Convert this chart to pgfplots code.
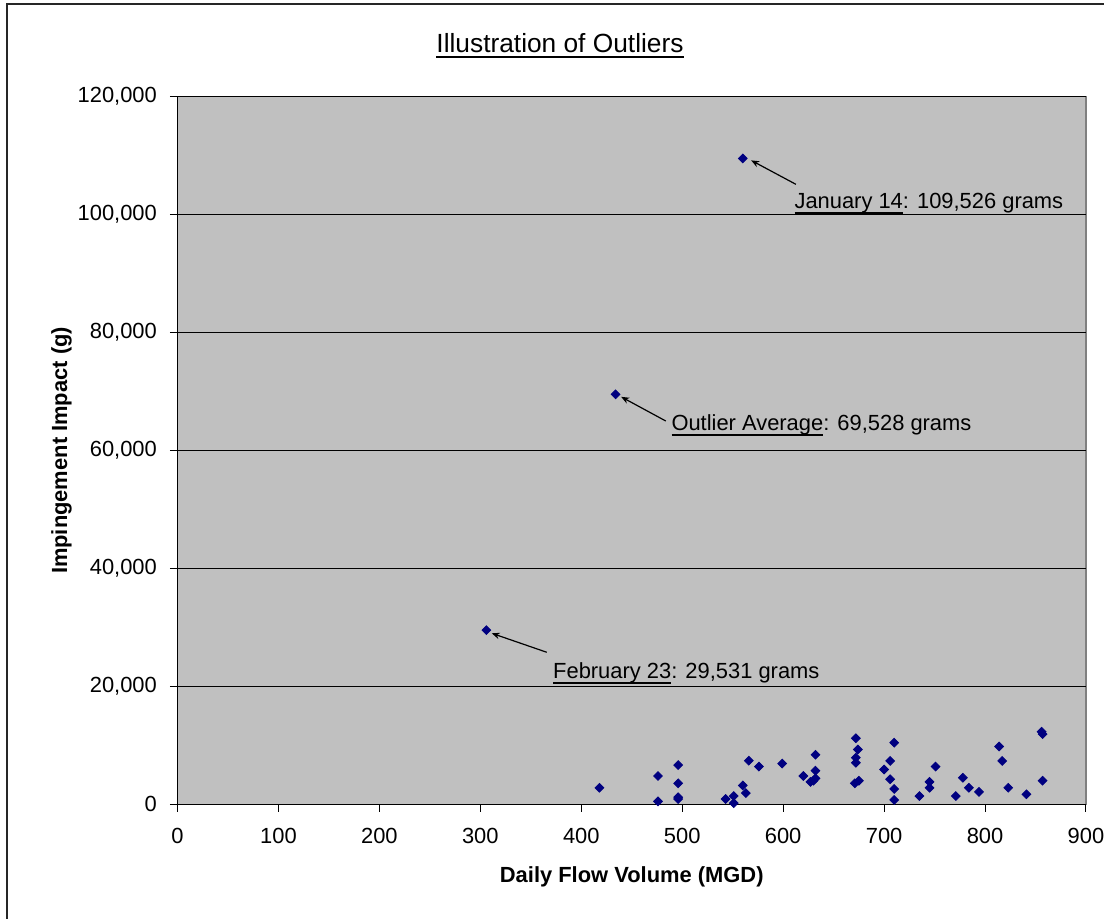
\documentclass[border=0pt]{standalone}
\usepackage{fontspec}
\setmainfont{Liberation Sans}
\setsansfont{Liberation Sans}
\usepackage{pgfplots}
\pgfplotsset{compat=1.18}
\usetikzlibrary{arrows.meta}
\definecolor{bggray}{RGB}{192,192,192}
\definecolor{navy}{RGB}{0,0,128}
\definecolor{framegray}{RGB}{128,128,128}
\newsavebox\ulbox
\newcommand\ul[1]{\sbox\ulbox{#1}\rlap{\rule[-2.85pt]{\wd\ulbox}{1pt}}\usebox\ulbox}
\newcommand\tickfont{\fontsize{10.95}{13}\selectfont}
\begin{document}
\begin{tikzpicture}
\useasboundingbox (0,0) rectangle (552pt,459.5pt);
\draw[line width=0.8pt, black!85] (3.5pt,0) -- (3.5pt,457.5pt) -- (552pt,457.5pt);
\node[anchor=base, inner sep=0pt, font=\fontsize{13.15}{15}\selectfont] at (280pt,433.25pt) {\ul{Illustration of Outliers}};
\begin{axis}[
  at={(88.75pt,57.35pt)}, anchor=south west,
  width=454.25pt, height=353.8pt, scale only axis,
  xmin=0, xmax=900, ymin=0, ymax=120000,
  xtick={0,100,...,900}, ytick={0,20000,...,120000},
  scaled ticks=false,
  axis x line*=bottom, axis y line*=left,
  axis line style={black, line width=0.6pt},
  axis background/.style={fill=bggray, draw=framegray, line width=0.6pt},
  tick align=outside, major tick length=3.8pt,
  tick style={black, line width=0.5pt},
  ymajorgrids, major grid style={black, line width=0.5pt},
  tick label style={font=\tickfont},
  /pgf/number format/assume math mode=true,
  yticklabel style={xshift=-3pt, /pgf/number format/.cd, fixed, 1000 sep={,}},
  xticklabel style={yshift=-4.5pt, /pgf/number format/.cd, fixed, 1000 sep={}},
  xlabel={Daily Flow Volume (MGD)},
  ylabel={Impingement Impact (g)},
  label style={font=\tickfont\bfseries},
  xlabel style={at={(axis description cs:0.5,-0.1112)}, anchor=base},
  ylabel style={at={(axis description cs:-0.1216,0.5)}, anchor=base, rotate=0},
  clip=false,
]
\addplot[only marks, mark=square*, mark size=1.55pt, mark options={rotate=45, fill=navy, draw=navy}, color=navy]
coordinates {
(418,2800) (476,4800) (476,500) (496,6650) (496,3550) (496,1200) (496,900)
(543,900) (551,1400) (551,200) (560,3200) (563,1900) (566,7400) (576,6400)
(599,6900) (620,4800) (627,3800) (632,4400) (630,4000) (632,5700) (632,8400)
(672,11200) (674,9300) (672,7900) (672,7050) (671,3550) (675,4000)
(700,5900) (706,7350) (710,10450) (706,4250) (710,2600) (710,730)
(735,1400) (745,3800) (745,2800) (751,6400) (771,1400) (778,4500)
(784,2800) (794,2100) (814,9800) (817,7350) (823,2800) (841,1700)
(856,12300) (857,11900) (857,4000)
(306,29531) (434,69528) (560,109526)
};
\draw[-{Stealth[length=4pt,width=3.2pt]}, line width=0.6pt] (axis cs:612.6,105140) -- (axis cs:568.3,109200);
\draw[-{Stealth[length=4pt,width=3.2pt]}, line width=0.6pt] (axis cs:483.7,65000) -- (axis cs:439.5,69100);
\draw[-{Stealth[length=4pt,width=3.2pt]}, line width=0.6pt] (axis cs:365.8,25780) -- (axis cs:311.3,29000);
\node[anchor=base west, inner sep=0pt, font=\tickfont] at (axis cs:610.9,101070) {\ul{January 14}: 109,526 grams};
\node[anchor=base west, inner sep=0pt, font=\tickfont] at (axis cs:489,63470) {\ul{Outlier Average}: 69,528 grams};
\node[anchor=base west, inner sep=0pt, font=\tickfont] at (axis cs:371.8,21370) {\ul{February 23}: 29,531 grams};
\end{axis}
\end{tikzpicture}
\end{document}
